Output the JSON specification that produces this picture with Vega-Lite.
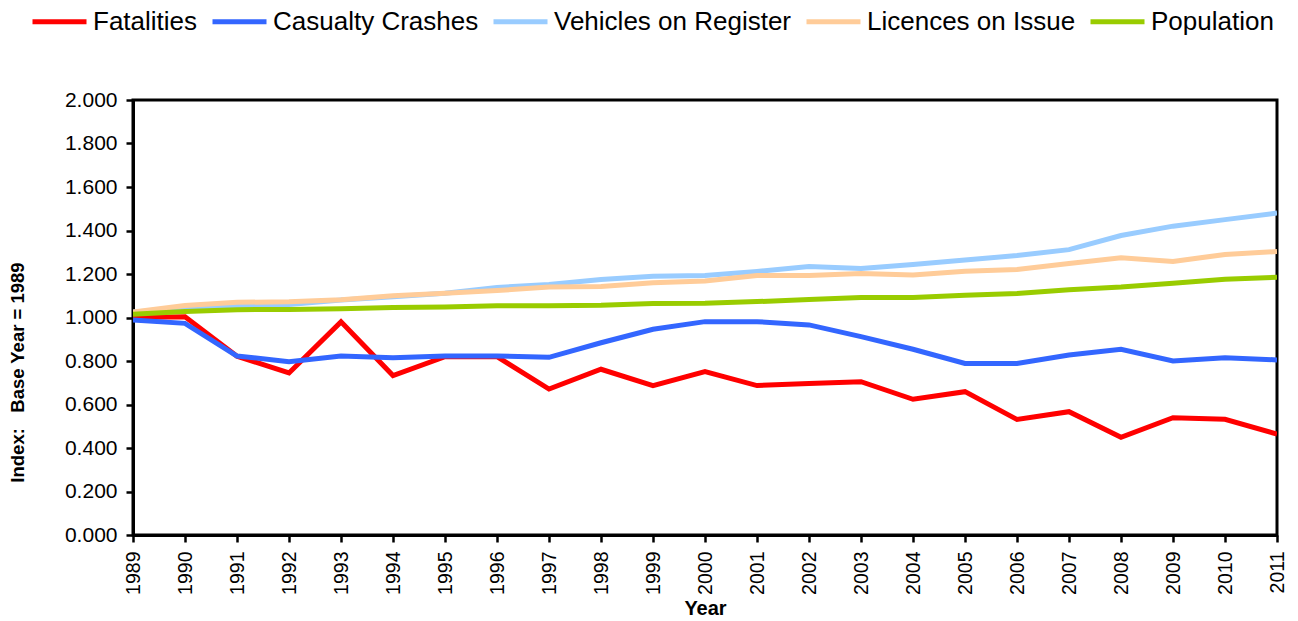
{
  "$schema": "https://vega.github.io/schema/vega-lite/v6.json",
  "width": 1144,
  "height": 435,
  "autosize": {"type": "none"},
  "padding": {"left": 133, "top": 100, "right": 21, "bottom": 86},
  "background": "white",
  "config": {
    "font": "Liberation Sans",
    "view": {"stroke": "black", "strokeWidth": 3},
    "axis": {"grid": false, "domainColor": "black", "domainWidth": 3, "tickColor": "black", "tickWidth": 2.5, "tickSize": 7, "labelColor": "black", "titleColor": "black", "titleFont": "Liberation Sans", "titleFontWeight": "bold"}
  },
  "data": {"values": [
    {"year": 1989, "series": "Fatalities", "value": 1.000},
    {"year": 1990, "series": "Fatalities", "value": 1.003},
    {"year": 1991, "series": "Fatalities", "value": 0.822},
    {"year": 1992, "series": "Fatalities", "value": 0.745},
    {"year": 1993, "series": "Fatalities", "value": 0.980},
    {"year": 1994, "series": "Fatalities", "value": 0.733},
    {"year": 1995, "series": "Fatalities", "value": 0.820},
    {"year": 1996, "series": "Fatalities", "value": 0.820},
    {"year": 1997, "series": "Fatalities", "value": 0.671},
    {"year": 1998, "series": "Fatalities", "value": 0.762},
    {"year": 1999, "series": "Fatalities", "value": 0.687},
    {"year": 2000, "series": "Fatalities", "value": 0.751},
    {"year": 2001, "series": "Fatalities", "value": 0.687},
    {"year": 2002, "series": "Fatalities", "value": 0.697},
    {"year": 2003, "series": "Fatalities", "value": 0.705},
    {"year": 2004, "series": "Fatalities", "value": 0.624},
    {"year": 2005, "series": "Fatalities", "value": 0.659},
    {"year": 2006, "series": "Fatalities", "value": 0.531},
    {"year": 2007, "series": "Fatalities", "value": 0.567},
    {"year": 2008, "series": "Fatalities", "value": 0.449},
    {"year": 2009, "series": "Fatalities", "value": 0.539},
    {"year": 2010, "series": "Fatalities", "value": 0.532},
    {"year": 2011, "series": "Fatalities", "value": 0.464},
    {"year": 1989, "series": "Casualty Crashes", "value": 0.988},
    {"year": 1990, "series": "Casualty Crashes", "value": 0.973},
    {"year": 1991, "series": "Casualty Crashes", "value": 0.823},
    {"year": 1992, "series": "Casualty Crashes", "value": 0.797},
    {"year": 1993, "series": "Casualty Crashes", "value": 0.823},
    {"year": 1994, "series": "Casualty Crashes", "value": 0.815},
    {"year": 1995, "series": "Casualty Crashes", "value": 0.823},
    {"year": 1996, "series": "Casualty Crashes", "value": 0.823},
    {"year": 1997, "series": "Casualty Crashes", "value": 0.817},
    {"year": 1998, "series": "Casualty Crashes", "value": 0.884},
    {"year": 1999, "series": "Casualty Crashes", "value": 0.946},
    {"year": 2000, "series": "Casualty Crashes", "value": 0.981},
    {"year": 2001, "series": "Casualty Crashes", "value": 0.981},
    {"year": 2002, "series": "Casualty Crashes", "value": 0.966},
    {"year": 2003, "series": "Casualty Crashes", "value": 0.912},
    {"year": 2004, "series": "Casualty Crashes", "value": 0.854},
    {"year": 2005, "series": "Casualty Crashes", "value": 0.789},
    {"year": 2006, "series": "Casualty Crashes", "value": 0.789},
    {"year": 2007, "series": "Casualty Crashes", "value": 0.828},
    {"year": 2008, "series": "Casualty Crashes", "value": 0.854},
    {"year": 2009, "series": "Casualty Crashes", "value": 0.800},
    {"year": 2010, "series": "Casualty Crashes", "value": 0.815},
    {"year": 2011, "series": "Casualty Crashes", "value": 0.805},
    {"year": 1989, "series": "Vehicles on Register", "value": 1.025},
    {"year": 1990, "series": "Vehicles on Register", "value": 1.040},
    {"year": 1991, "series": "Vehicles on Register", "value": 1.053},
    {"year": 1992, "series": "Vehicles on Register", "value": 1.060},
    {"year": 1993, "series": "Vehicles on Register", "value": 1.080},
    {"year": 1994, "series": "Vehicles on Register", "value": 1.095},
    {"year": 1995, "series": "Vehicles on Register", "value": 1.112},
    {"year": 1996, "series": "Vehicles on Register", "value": 1.138},
    {"year": 1997, "series": "Vehicles on Register", "value": 1.152},
    {"year": 1998, "series": "Vehicles on Register", "value": 1.175},
    {"year": 1999, "series": "Vehicles on Register", "value": 1.190},
    {"year": 2000, "series": "Vehicles on Register", "value": 1.193},
    {"year": 2001, "series": "Vehicles on Register", "value": 1.212},
    {"year": 2002, "series": "Vehicles on Register", "value": 1.235},
    {"year": 2003, "series": "Vehicles on Register", "value": 1.225},
    {"year": 2004, "series": "Vehicles on Register", "value": 1.244},
    {"year": 2005, "series": "Vehicles on Register", "value": 1.264},
    {"year": 2006, "series": "Vehicles on Register", "value": 1.285},
    {"year": 2007, "series": "Vehicles on Register", "value": 1.312},
    {"year": 2008, "series": "Vehicles on Register", "value": 1.377},
    {"year": 2009, "series": "Vehicles on Register", "value": 1.420},
    {"year": 2010, "series": "Vehicles on Register", "value": 1.450},
    {"year": 2011, "series": "Vehicles on Register", "value": 1.480},
    {"year": 1989, "series": "Licences on Issue", "value": 1.025},
    {"year": 1990, "series": "Licences on Issue", "value": 1.055},
    {"year": 1991, "series": "Licences on Issue", "value": 1.070},
    {"year": 1992, "series": "Licences on Issue", "value": 1.072},
    {"year": 1993, "series": "Licences on Issue", "value": 1.082},
    {"year": 1994, "series": "Licences on Issue", "value": 1.100},
    {"year": 1995, "series": "Licences on Issue", "value": 1.112},
    {"year": 1996, "series": "Licences on Issue", "value": 1.124},
    {"year": 1997, "series": "Licences on Issue", "value": 1.140},
    {"year": 1998, "series": "Licences on Issue", "value": 1.142},
    {"year": 1999, "series": "Licences on Issue", "value": 1.160},
    {"year": 2000, "series": "Licences on Issue", "value": 1.168},
    {"year": 2001, "series": "Licences on Issue", "value": 1.193},
    {"year": 2002, "series": "Licences on Issue", "value": 1.193},
    {"year": 2003, "series": "Licences on Issue", "value": 1.202},
    {"year": 2004, "series": "Licences on Issue", "value": 1.195},
    {"year": 2005, "series": "Licences on Issue", "value": 1.213},
    {"year": 2006, "series": "Licences on Issue", "value": 1.221},
    {"year": 2007, "series": "Licences on Issue", "value": 1.248},
    {"year": 2008, "series": "Licences on Issue", "value": 1.275},
    {"year": 2009, "series": "Licences on Issue", "value": 1.258},
    {"year": 2010, "series": "Licences on Issue", "value": 1.290},
    {"year": 2011, "series": "Licences on Issue", "value": 1.303},
    {"year": 1989, "series": "Population", "value": 1.015},
    {"year": 1990, "series": "Population", "value": 1.028},
    {"year": 1991, "series": "Population", "value": 1.036},
    {"year": 1992, "series": "Population", "value": 1.037},
    {"year": 1993, "series": "Population", "value": 1.040},
    {"year": 1994, "series": "Population", "value": 1.046},
    {"year": 1995, "series": "Population", "value": 1.048},
    {"year": 1996, "series": "Population", "value": 1.054},
    {"year": 1997, "series": "Population", "value": 1.054},
    {"year": 1998, "series": "Population", "value": 1.056},
    {"year": 1999, "series": "Population", "value": 1.064},
    {"year": 2000, "series": "Population", "value": 1.065},
    {"year": 2001, "series": "Population", "value": 1.073},
    {"year": 2002, "series": "Population", "value": 1.083},
    {"year": 2003, "series": "Population", "value": 1.092},
    {"year": 2004, "series": "Population", "value": 1.092},
    {"year": 2005, "series": "Population", "value": 1.102},
    {"year": 2006, "series": "Population", "value": 1.110},
    {"year": 2007, "series": "Population", "value": 1.128},
    {"year": 2008, "series": "Population", "value": 1.140},
    {"year": 2009, "series": "Population", "value": 1.158},
    {"year": 2010, "series": "Population", "value": 1.176},
    {"year": 2011, "series": "Population", "value": 1.185}
  ]},
  "mark": {"type": "line", "strokeWidth": 5, "clip": true},
  "encoding": {
    "x": {
      "field": "year", "type": "quantitative",
      "scale": {"domain": [1989, 2011], "nice": false, "zero": false},
      "axis": {"values": [1989,1990,1991,1992,1993,1994,1995,1996,1997,1998,1999,2000,2001,2002,2003,2004,2005,2006,2007,2008,2009,2010,2011], "format": "d", "labelAngle": -90, "labelFontSize": 19.5, "labelPadding": 9, "title": "Year", "titleFontSize": 20, "titlePadding": 4}
    },
    "y": {
      "field": "value", "type": "quantitative",
      "scale": {"domain": [0, 2], "nice": false},
      "axis": {"values": [0,0.2,0.4,0.6,0.8,1.0,1.2,1.4,1.6,1.8,2.0], "format": ".3f", "labelFontSize": 21, "labelPadding": 9, "title": "Index:\u00a0\u00a0\u00a0Base Year = 1989", "titleFontSize": 18.5, "titleX": -106, "titleY": 272}
    },
    "color": {
      "field": "series", "type": "nominal",
      "scale": {
        "domain": ["Fatalities", "Casualty Crashes", "Vehicles on Register", "Licences on Issue", "Population"],
        "range": ["#FF0000", "#3366FF", "#99CCFF", "#FFCC99", "#99CC00"]
      },
      "legend": {
        "orient": "none", "legendX": -103, "legendY": -108, "direction": "horizontal",
        "title": null, "symbolType": "stroke", "symbolStrokeWidth": 5, "symbolSize": 2916,
        "labelFontSize": 26, "labelColor": "black", "labelOffset": 4, "columnPadding": 4, "labelLimit": 400
      }
    }
  }
}
